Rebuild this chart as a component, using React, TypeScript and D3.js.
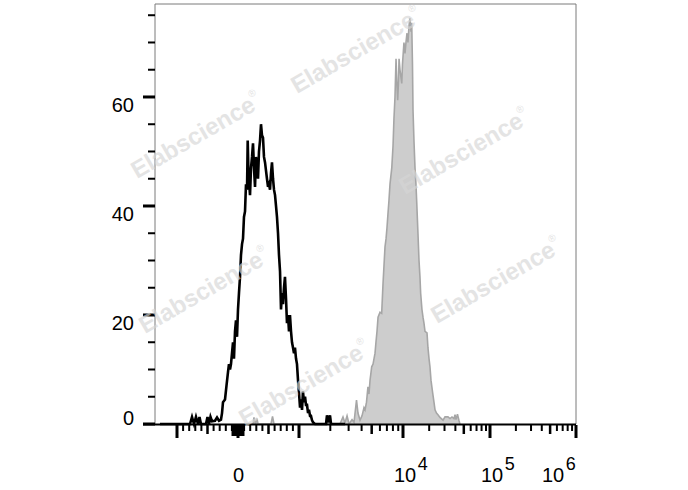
import React from 'react';
import * as d3 from 'd3';

// ---------- data (x in logicle display units, y = count) ----------
const blackX = [-1.279,-0.787,-0.754,-0.721,-0.689,-0.656,-0.631,-0.607,-0.525,-0.5,-0.475,-0.451,-0.426,-0.377,-0.344,-0.311,-0.279,-0.262,-0.246,-0.213,-0.189,-0.164,-0.148,-0.131,-0.115,-0.082,-0.066,-0.049,-0.033,-0.016,0,0.016,0.033,0.049,0.066,0.082,0.098,0.115,0.131,0.148,0.159,0.172,0.197,0.213,0.23,0.246,0.262,0.279,0.295,0.311,0.328,0.344,0.361,0.377,0.393,0.41,0.426,0.443,0.459,0.475,0.492,0.508,0.525,0.541,0.557,0.574,0.59,0.607,0.623,0.639,0.656,0.672,0.689,0.705,0.721,0.738,0.754,0.77,0.787,0.803,0.82,0.836,0.852,0.869,0.885,0.902,0.918,0.934,0.951,0.967,0.984,1.0,1.01,1.019,1.029,1.038,1.048,1.058,1.067,1.077,1.087,1.096,1.106,1.115,1.125,1.135,1.154,1.26,1.269,1.284,1.298,1.308,1.442];
const blackCount = [0,0,1.3,0,1.3,0,1.3,0,0,1.3,0,1.3,0.5,0.6,1.2,0.6,0.8,2,4,4.5,7,9.5,11,10,11,15,12,17,19,16,21,24,27,31,33,34,38,39,44,43,52,46,42,47,49,51.5,47,43.5,49,47,45,50,52,55,53,52.5,49,48,46.5,45,43.5,44,43,46,48,45,43,42,40,38,35,31,28,21,24,22,25,27,23,18.5,20,17,20,17,15,14,13,14,12,11,8,5.7,3,4.5,2.6,6,4,5,3.5,3.5,2,2.6,1.5,1.5,0.7,0.3,0,0,1.6,0.3,1.6,0,0];

const grayX = [0.197,0.246,0.262,0.287,0.311,0.328,0.541,0.566,0.59,1.394,1.423,1.442,1.462,1.481,1.51,1.529,1.553,1.567,1.587,1.606,1.625,1.635,1.649,1.663,1.673,1.683,1.699,1.712,1.731,1.74,1.75,1.76,1.779,1.795,1.808,1.817,1.827,1.837,1.846,1.856,1.865,1.875,1.892,1.904,1.913,1.923,1.933,1.942,1.949,1.957,1.962,1.971,1.988,1.995,2.011,2.023,2.034,2.046,2.057,2.069,2.08,2.092,2.1,2.109,2.115,2.126,2.138,2.149,2.157,2.172,2.184,2.195,2.203,2.218,2.23,2.241,2.253,2.276,2.287,2.299,2.31,2.322,2.341,2.356,2.368,2.385,2.402,2.425,2.46,2.483,2.517,2.54,2.563,2.586,2.598,2.609,2.626,2.644,2.655];
const grayCount = [0,0,1.2,0,1.0,0,0,1.4,0,0,1.3,0.2,1.5,0,0.8,0.3,4.4,2,0.7,1.5,3,2.6,4,6.8,5.5,8,10.5,11,13,15,17,19.6,20.5,20.3,25.8,29,32.5,34,36,38.7,41,44,47,51,56,60,67,62,59.4,63,67,65,62.5,66,70,68,70,71.7,70,73,74.5,72,73.6,66,57.6,52,47,44,41,35,30,27,24,21,19.6,18.5,17,16.7,14,12,10.5,8,5.7,4,2.6,2,1.7,1.2,0.7,1.3,1.3,1.0,1.3,1.0,1.7,0.8,1.8,0.6,0];

const yMajorTicks = [0, 20, 40, 60];
const yMinorTicks = [5, 10, 15, 25, 30, 35, 45, 50, 55, 65, 70, 75];
const xMajorTicks = [-1000, 0, 1000, 1e4, 1e5, 1e6];
const xLabels = [
  { v: 0, base: '0', exp: '' },
  { v: 1e4, base: '10', exp: '4' },
  { v: 1e5, base: '10', exp: '5' },
  { v: 1e6, base: '10', exp: '6' },
];
const watermarks = [
  [357, 52], [197, 137], [465, 153], [205, 292], [497, 282], [305, 385],
];

// ---------- scales ----------
const W = 688, H = 490;
const L = 155, T0 = 4, R = 576, B = 424;
const FONT = '"Liberation Sans", Arial, Helvetica, sans-serif';

// logicle-like display transform
const disp = (v: number) =>
  Math.abs(v) <= 1000 ? v / 1000 : Math.sign(v) * (1 + Math.log10(Math.abs(v) / 1000));

const x = d3.scaleLinear()
  .domain([-1.36, -1, 0, 1, 2, 3, 4])
  .range([L, 177, 238, 299, 403, 490, R]);
const y = d3.scaleLinear().domain([0, 77.06]).range([B, T0]);

// minor tick values
const xMinor: { v: number; kind: string }[] = [];
[10, 100].forEach((d) => {
  for (let k = 1; k <= 9; k++) {
    xMinor.push({ v: k * d, kind: d === 10 ? 'near' : k === 5 ? 'mid' : 'minor' });
    xMinor.push({ v: -k * d, kind: d === 10 ? 'near' : k === 5 ? 'mid' : 'minor' });
  }
});
[1000, 1e4, 1e5].forEach((d) => {
  for (let k = 2; k <= 9; k++) xMinor.push({ v: k * d, kind: k === 5 ? 'mid' : 'minor' });
});

export default function App() {
  const blackData = blackX.map((t, i) => [t, blackCount[i]] as [number, number]);
  const grayData = grayX.map((t, i) => [t, grayCount[i]] as [number, number]);
  const line = d3.line<[number, number]>().x((d) => x(d[0])).y((d) => y(d[1]));
  const area = d3.area<[number, number]>().x((d) => x(d[0])).y0(y(0)).y1((d) => y(d[1]));

  const tickLen: Record<string, number> = { major: 13, near: 11, mid: 9, minor: 6 };

  return (
    <svg width={W} height={H} style={{ position: 'absolute', left: 0, top: 0, background: '#fff' }}>
      <rect x={0} y={0} width={W} height={H} fill="#fff" />
      {/* gray filled histogram */}
      <path d={area(grayData) || ''} fill="#cdcdcd" stroke="none" />
      <path d={line(grayData) || ''} fill="none" stroke="#a6a6a6" strokeWidth={1.6} strokeLinejoin="miter" />
      {/* black histogram */}
      <path d={line(blackData) || ''} fill="none" stroke="#000" strokeWidth={2.6} strokeLinejoin="miter" />

      {/* frame */}
      <line x1={L} y1={T0} x2={R} y2={T0} stroke="#7a7a7a" strokeWidth={1} />
      <line x1={R} y1={T0} x2={R} y2={B} stroke="#7a7a7a" strokeWidth={1} />
      <line x1={L} y1={T0} x2={L} y2={B} stroke="#7a7a7a" strokeWidth={1} />

      {/* y ticks */}
      {yMinorTicks.map((v) => (
        <line key={'ym' + v} x1={L - 7} x2={L} y1={y(v)} y2={y(v)} stroke="#000" strokeWidth={2} />
      ))}
      {yMajorTicks.map((v) => (
        <line key={'yM' + v} x1={L - 12} x2={L} y1={y(v)} y2={y(v)} stroke="#000" strokeWidth={3} />
      ))}
      {yMajorTicks.map((v) => (
        <text key={'yl' + v} x={134} y={v === 0 ? y(v) + 1 : y(v) + 15.5} textAnchor="end"
          fontFamily={FONT} fontSize={20} fill="#000">{v}</text>
      ))}

      {/* x axis line */}
      <line x1={L - 12} x2={R} y1={B + 0.5} y2={B + 0.5} stroke="#000" strokeWidth={2} />
      {xMinor.map((t, i) => (
        <line key={'xm' + i} x1={x(disp(t.v))} x2={x(disp(t.v))} y1={B + 1} y2={B + 1 + tickLen[t.kind]}
          stroke="#000" strokeWidth={t.kind === 'mid' ? 2.5 : 2} />
      ))}
      {xMajorTicks.map((v) => (
        <line key={'xM' + v} x1={x(disp(v))} x2={x(disp(v))} y1={B + 1} y2={B + 1 + tickLen.major}
          stroke="#000" strokeWidth={3} />
      ))}
      {xLabels.map((lb) => {
        const tx = x(disp(lb.v));
        if (!lb.exp) {
          return (
            <text key={'xl' + lb.v} x={tx + 0.5} y={482} textAnchor="middle" fontFamily={FONT} fontSize={20}>{lb.base}</text>
          );
        }
        const sx = Math.min(tx - 9, R - 34);
        return (
          <text key={'xl' + lb.v} x={sx} y={482} fontFamily={FONT} fontSize={20} fill="#000">
            {lb.base}
            <tspan dx={1.5} dy={-12.5} fontSize={18}>{lb.exp}</tspan>
          </text>
        );
      })}

      {/* watermarks */}
      {watermarks.map(([cx, cy], i) => (
        <text key={'wm' + i} transform={`translate(${cx},${cy}) rotate(-30)`} textAnchor="middle"
          dominantBaseline="middle" fontFamily={FONT} fontWeight="bold" fontSize={24}
          fill="#d6d6d6" opacity={0.65}>
          Elabscience<tspan fontSize={10} dy={-10} fontWeight="normal">®</tspan>
        </text>
      ))}
    </svg>
  );
}
